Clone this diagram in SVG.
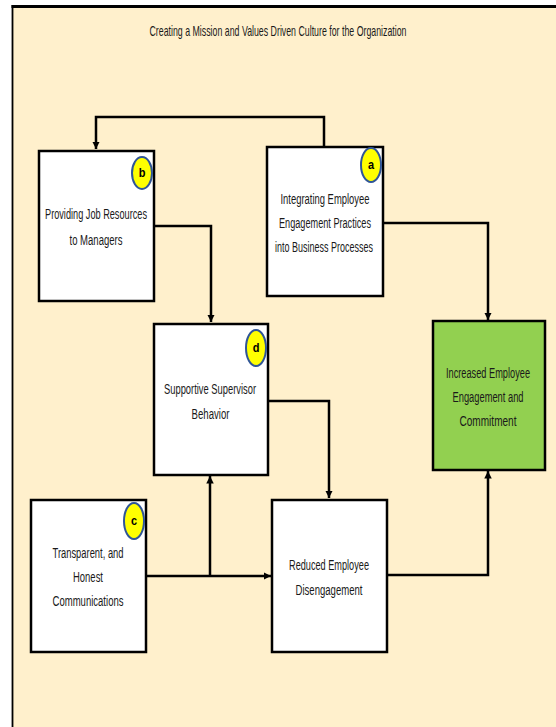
<svg xmlns="http://www.w3.org/2000/svg" width="556" height="727" viewBox="0 0 556 727">
<defs>
<style>
.box{fill:#ffffff;stroke:#000;stroke-width:2.5}
.green{fill:#92d050;stroke:#000;stroke-width:2.5}
.t{font-family:"Liberation Sans",Arial,sans-serif;font-size:12px;fill:#1a1a1a;text-anchor:middle}
.title{font-family:"Liberation Sans",Arial,sans-serif;font-size:11.5px;fill:#1a1a1a;text-anchor:middle}
.badge{fill:#ffff00;stroke:#2f5597;stroke-width:2}
.bl{font-family:"Liberation Sans",Arial,sans-serif;font-size:11px;font-weight:bold;fill:#000;text-anchor:middle}
.c{fill:none;stroke:#000;stroke-width:2.5}
</style>
<marker id="ah" viewBox="0 0 10 10" refX="10" refY="5" markerWidth="3" markerHeight="3.2" orient="auto" markerUnits="strokeWidth">
<path d="M0,0 L10,5 L0,10 Z" fill="#000"/>
</marker>
</defs>
<rect x="0" y="0" width="556" height="727" fill="#ffffff"/>
<rect x="13" y="7" width="545" height="722" fill="#fff0cc"/>
<line x1="11.5" y1="6.5" x2="556" y2="6.5" stroke="#000" stroke-width="3"/>
<line x1="12.5" y1="5" x2="12.5" y2="727" stroke="#000" stroke-width="1.8"/>
<text class="title" transform="translate(278,36) scale(1,1.25)" textLength="257" lengthAdjust="spacingAndGlyphs">Creating a Mission and Values Driven Culture for the Organization</text>

<g id="connectors">
<polyline class="c" points="324,147 324,117 96,117 96,149" marker-end="url(#ah)"/>
<polyline class="c" points="154,226 211,226 211,322" marker-end="url(#ah)"/>
<polyline class="c" points="383,223 488,223 488,320" marker-end="url(#ah)"/>
<polyline class="c" points="268,401 329,401 329,498" marker-end="url(#ah)"/>
<polyline class="c" points="146,576 271,576" marker-end="url(#ah)"/>
<polyline class="c" points="210,576 210,476" marker-end="url(#ah)"/>
<polyline class="c" points="387,575 488,575 488,471" marker-end="url(#ah)"/>
</g>

<g id="node-b">
<rect class="box" x="39" y="151" width="115" height="150"/>
<ellipse class="badge" cx="142" cy="173" rx="10" ry="16"/>
<text class="bl" transform="translate(142,177) scale(1,1.2)">b</text>
<text class="t" transform="translate(96,219) scale(1,1.25)" textLength="102" lengthAdjust="spacingAndGlyphs">Providing Job Resources</text>
<text class="t" transform="translate(96,245) scale(1,1.25)" textLength="53" lengthAdjust="spacingAndGlyphs">to Managers</text>
</g>

<g id="node-a">
<rect class="box" x="267" y="147" width="116" height="149"/>
<ellipse class="badge" cx="371" cy="165" rx="10" ry="17"/>
<text class="bl" transform="translate(371,169) scale(1,1.2)">a</text>
<text class="t" transform="translate(325,204) scale(1,1.25)" textLength="89" lengthAdjust="spacingAndGlyphs">Integrating Employee</text>
<text class="t" transform="translate(325,228) scale(1,1.25)" textLength="92" lengthAdjust="spacingAndGlyphs">Engagement Practices</text>
<text class="t" transform="translate(324,252) scale(1,1.25)" textLength="98" lengthAdjust="spacingAndGlyphs">into Business Processes</text>
</g>

<g id="node-d">
<rect class="box" x="154" y="324" width="114" height="151"/>
<ellipse class="badge" cx="256" cy="348" rx="10" ry="18"/>
<text class="bl" transform="translate(256,352) scale(1,1.2)">d</text>
<text class="t" transform="translate(210,394) scale(1,1.25)" textLength="92" lengthAdjust="spacingAndGlyphs">Supportive Supervisor</text>
<text class="t" transform="translate(210.5,419) scale(1,1.25)" textLength="38" lengthAdjust="spacingAndGlyphs">Behavior</text>
</g>

<g id="node-green">
<rect class="green" x="433" y="321" width="112" height="149"/>
<text class="t" transform="translate(488,378) scale(1,1.25)" textLength="84" lengthAdjust="spacingAndGlyphs">Increased Employee</text>
<text class="t" transform="translate(488,402) scale(1,1.25)" textLength="71" lengthAdjust="spacingAndGlyphs">Engagement and</text>
<text class="t" transform="translate(488,426) scale(1,1.25)" textLength="57" lengthAdjust="spacingAndGlyphs">Commitment</text>
</g>

<g id="node-c">
<rect class="box" x="31" y="500" width="115" height="152"/>
<ellipse class="badge" cx="134" cy="521" rx="10" ry="18"/>
<text class="bl" transform="translate(134,525) scale(1,1.2)">c</text>
<text class="t" transform="translate(88,558) scale(1,1.25)" textLength="71" lengthAdjust="spacingAndGlyphs">Transparent, and</text>
<text class="t" transform="translate(88,582) scale(1,1.25)" textLength="30" lengthAdjust="spacingAndGlyphs">Honest</text>
<text class="t" transform="translate(88,606) scale(1,1.25)" textLength="71" lengthAdjust="spacingAndGlyphs">Communications</text>
</g>

<g id="node-reduced">
<rect class="box" x="272" y="500" width="115" height="152"/>
<text class="t" transform="translate(329,570) scale(1,1.25)" textLength="80" lengthAdjust="spacingAndGlyphs">Reduced Employee</text>
<text class="t" transform="translate(329,595) scale(1,1.25)" textLength="67" lengthAdjust="spacingAndGlyphs">Disengagement</text>
</g>
</svg>
